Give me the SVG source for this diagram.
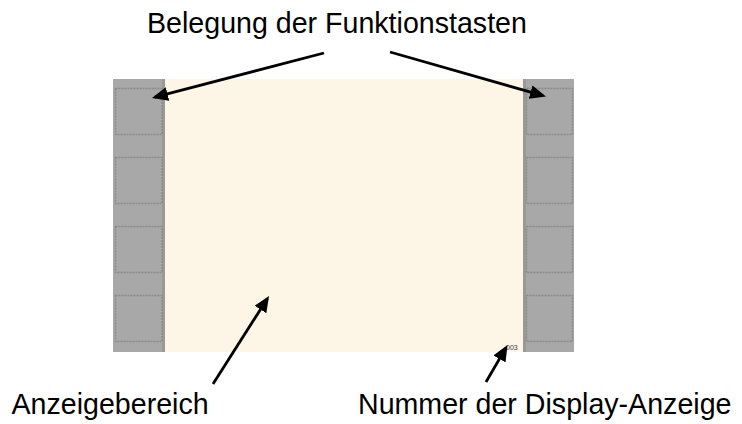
<svg xmlns="http://www.w3.org/2000/svg" width="742" height="424" viewBox="0 0 742 424">
  <style>
    .label { font-family: "Liberation Sans", Arial, sans-serif; font-size: 28.6px; fill: #000; }
    .panel { fill: #A8A8A8; }
    .edge { fill: #999999; }
    .key { fill: #A8A8A8; stroke: #8A8A8A; stroke-width: 1.5; stroke-dasharray: 2 1; }
    .conn { stroke: #000; stroke-width: 2.8; fill: none; marker-end: url(#arrow); }
  </style>
  <defs>
    <marker id="arrow" markerUnits="userSpaceOnUse" markerWidth="16" markerHeight="14" refX="13" refY="7" orient="auto">
      <path d="M0,0 L16,7 L0,14 z" fill="#000"/>
    </marker>
  </defs>
  <rect width="742" height="424" fill="#fff"/>

  <g id="display-area">
    <rect x="165" y="79" width="358" height="273" fill="#FDF5E6"/>
    <text x="506" y="349.5" font-family="'Liberation Sans', Arial, sans-serif" font-size="7" fill="#3A4050">003</text>
  </g>

  <g id="left-keys">
    <rect class="panel" x="113" y="79" width="52" height="273"/>
    <rect class="edge" x="162" y="79" width="3" height="273"/>
    <rect class="key" x="115.5" y="88.5" width="46.5" height="46"/>
    <rect class="key" x="115.5" y="157.5" width="46.5" height="46"/>
    <rect class="key" x="115.5" y="226.5" width="46.5" height="46"/>
    <rect class="key" x="115.5" y="295.5" width="46.5" height="46"/>
  </g>

  <g id="right-keys">
    <rect class="panel" x="523" y="79" width="51" height="273"/>
    <rect class="edge" x="523" y="79" width="3" height="273"/>
    <rect class="key" x="526.5" y="88.5" width="46" height="46"/>
    <rect class="key" x="526.5" y="157.5" width="46" height="46"/>
    <rect class="key" x="526.5" y="226.5" width="46" height="46"/>
    <rect class="key" x="526.5" y="295.5" width="46" height="46"/>
  </g>

  <g id="label-funktionstasten">
    <text class="label" x="147" y="33">Belegung der Funktionstasten</text>
  </g>
  <g id="label-anzeigebereich">
    <text class="label" x="11.5" y="414">Anzeigebereich</text>
  </g>
  <g id="label-nummer">
    <text class="label" x="358" y="414">Nummer der Display-Anzeige</text>
  </g>

  <g id="connectors">
    <line class="conn" x1="324" y1="53" x2="154.9" y2="97.2"/>
    <line class="conn" x1="390" y1="52" x2="543.1" y2="95.7"/>
    <line class="conn" x1="213" y1="384" x2="267.4" y2="298.5"/>
    <line class="conn" x1="486" y1="382" x2="506" y2="347.6"/>
  </g>
</svg>
